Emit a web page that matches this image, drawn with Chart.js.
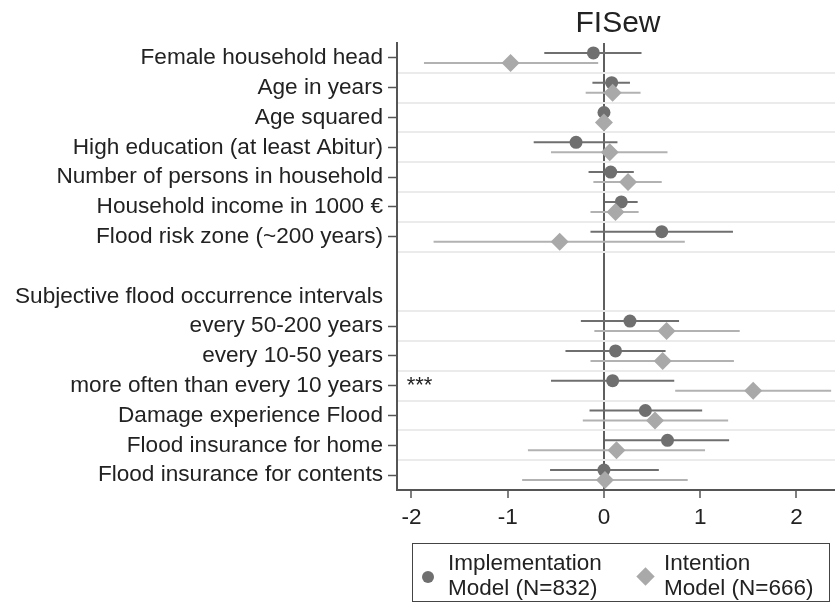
<!DOCTYPE html>
<html>
<head>
<meta charset="utf-8">
<script src="https://cdn.jsdelivr.net/npm/chart.js@4.4.0/dist/chart.umd.min.js"></script>
<style>
  html, body { margin: 0; padding: 0; background: #fff; }
  #wrap { position: relative; width: 835px; height: 607px; font-family: "Liberation Sans", Arial, sans-serif; color: #222; }
  canvas { position: absolute; left: 0; top: 0; }
  #legend { position: absolute; left: 412px; top: 543px; width: 418px; height: 59px; border: 1px solid #444; box-sizing: border-box; }
  .item { position: absolute; top: 6px; font-size: 22.5px; line-height: 25px; color: #222; }
  .mk { position: absolute; }
</style>
</head>
<body>
<div id="wrap">
  <canvas id="c" width="835" height="607"></canvas>
  <div id="legend">
    <div class="mk" style="left:9px;top:27px;width:12px;height:12px;border-radius:50%;background:#6f6f6f;"></div>
    <div class="item" style="left:35px;">Implementation<br>Model (N=832)</div>
    <div class="mk" style="left:226px;top:26px;width:13px;height:13px;background:#a9a9a9;transform:rotate(45deg);"></div>
    <div class="item" style="left:251px;">Intention<br>Model (N=666)</div>
  </div>
</div>
<script>
const chartTitle = 'FISew';
const categories = [
  'Female household head',
  'Age in years',
  'Age squared',
  'High education (at least Abitur)',
  'Number of persons in household',
  'Household income in 1000 €',
  'Flood risk zone (~200 years)',
  '',
  'Subjective flood occurrence intervals',
  'every 50-200 years',
  'every 10-50 years',
  'more often than every 10 years',
  'Damage experience Flood',
  'Flood insurance for home',
  'Flood insurance for contents'
];
const implCoef = [-0.11, 0.08, 0.00, -0.29, 0.07, 0.18, 0.60, null, null, 0.27, 0.12, 0.09, 0.43, 0.66, 0.00];
const implLo   = [-0.62, -0.12, -0.01, -0.73, -0.16, 0.01, -0.14, null, null, -0.24, -0.40, -0.55, -0.15, 0.01, -0.56];
const implHi   = [0.39, 0.27, 0.01, 0.14, 0.31, 0.35, 1.34, null, null, 0.78, 0.64, 0.73, 1.02, 1.30, 0.57];
const intCoef  = [-0.97, 0.09, 0.00, 0.06, 0.25, 0.12, -0.46, null, null, 0.65, 0.61, 1.55, 0.53, 0.13, 0.01];
const intLo    = [-1.87, -0.19, -0.01, -0.55, -0.11, -0.14, -1.77, null, null, -0.10, -0.14, 0.74, -0.22, -0.79, -0.85];
const intHi    = [-0.06, 0.38, 0.01, 0.66, 0.60, 0.36, 0.84, null, null, 1.41, 1.35, 2.36, 1.29, 1.05, 0.87];
const signif   = ['', '', '', '', '', '', '', '', '', '', '', '***', '', '', ''];
const xTicks   = [-2, -1, 0, 1, 2];

const OFF = 0.168;           // vertical offset of each model within a row
const DARK = '#6f6f6f', LIGHT = '#a9a9a9', LIGHTLINE = '#b2b2b2';
const FONT = "'Liberation Sans', Arial, sans-serif";

function markers(coef, off) {
  return coef.map((v, i) => v == null ? null : { x: v, y: i + off }).filter(Boolean);
}
function ciSets(lo, hi, off, color) {
  const out = [];
  lo.forEach((l, i) => {
    if (l == null) return;
    out.push({ data: [{ x: l, y: i + off }, { x: hi[i], y: i + off }], showLine: true,
      borderColor: color, borderWidth: 2, pointRadius: 0, pointHoverRadius: 0, yAxisID: 'y' });
  });
  return out;
}

const datasets = [
  { label: 'Intention Model (N=666)', data: markers(intCoef, OFF), pointStyle: 'rectRot', pointRadius: 9,
    backgroundColor: LIGHT, borderColor: LIGHT, borderWidth: 0, yAxisID: 'y' },
  ...ciSets(intLo, intHi, OFF, LIGHTLINE),
  { label: 'Implementation Model (N=832)', data: markers(implCoef, -OFF), pointStyle: 'circle', pointRadius: 6.5,
    backgroundColor: DARK, borderColor: DARK, borderWidth: 0, yAxisID: 'y' },
  ...ciSets(implLo, implHi, -OFF, DARK)
];

const gridRows = [];
for (let i = 0; i < categories.length - 1; i++) {
  if (!(implCoef[i] == null && implCoef[i + 1] == null) && categories[i] !== '') gridRows.push(i + 0.5);
}

const extras = {
  id: 'extras',
  afterDatasetsDraw(chart) {
    const ctx = chart.ctx, xs = chart.scales.x, ys = chart.scales.y, ca = chart.chartArea;
    ctx.save();
    ctx.fillStyle = '#222';
    ctx.font = '22px ' + FONT;
    ctx.textAlign = 'left';
    ctx.textBaseline = 'middle';
    signif.forEach((s, i) => { if (s) ctx.fillText(s, xs.getPixelForValue(-2.05), ys.getPixelForValue(i)); });
    ctx.font = '30px ' + FONT;
    ctx.textAlign = 'center';
    ctx.textBaseline = 'alphabetic';
    ctx.fillText(chartTitle, (ca.left + ca.right) / 2 + 2, 32);
    ctx.restore();
  }
};

new Chart(document.getElementById('c'), {
  type: 'scatter',
  data: { datasets },
  plugins: [extras],
  options: {
    responsive: false,
    animation: false,
    events: [],
    layout: { autoPadding: false, padding: { top: 43, left: 0, right: 0, bottom: 0 } },
    plugins: { legend: { display: false }, tooltip: { enabled: false }, title: { display: false } },
    scales: {
      x: {
        type: 'linear', min: -2.15, max: 2.4,
        afterBuildTicks: s => { s.ticks = xTicks.map(v => ({ value: v })); },
        afterFit: s => { s.height = 117; s.paddingLeft = 0; s.paddingRight = 0; },
        border: { display: true, color: '#555', width: 2 },
        grid: {
          drawOnChartArea: true, drawTicks: true, tickLength: 8, lineWidth: 2,
          color: c => (c.tick && c.tick.value === 0) ? '#5f5f5f' : 'rgba(0,0,0,0)',
          tickColor: '#555', tickWidth: 1.5
        },
        ticks: { color: '#222', font: { size: 22.5, family: FONT }, padding: 6, maxRotation: 0, callback: v => String(v) }
      },
      y: {
        type: 'linear', position: 'left', reverse: true, min: -0.5, max: categories.length - 0.5,
        afterBuildTicks: s => { s.ticks = categories.map((_, i) => ({ value: i })); },
        afterFit: s => { s.width = 397; s.paddingTop = 0; s.paddingBottom = 0; },
        border: { display: true, color: '#555', width: 2 },
        grid: {
          drawOnChartArea: false, drawTicks: true, tickLength: 9, tickWidth: 1.5,
          tickColor: c => (c.tick && implCoef[c.tick.value] == null) ? 'rgba(0,0,0,0)' : '#555'
        },
        ticks: { color: '#222', font: { size: 22.6, family: FONT }, padding: 5, autoSkip: false,
          callback: v => categories[v] }
      },
      y2: {
        type: 'linear', position: 'right', reverse: true, min: -0.5, max: categories.length - 0.5,
        afterBuildTicks: s => { s.ticks = gridRows.map(v => ({ value: v })); },
        afterFit: s => { s.width = 0; s.paddingTop = 0; s.paddingBottom = 0; },
        border: { display: false },
        grid: { drawOnChartArea: true, drawTicks: false, color: '#ebebeb', lineWidth: 2 },
        ticks: { display: false }
      }
    }
  }
});
</script>
</body>
</html>
